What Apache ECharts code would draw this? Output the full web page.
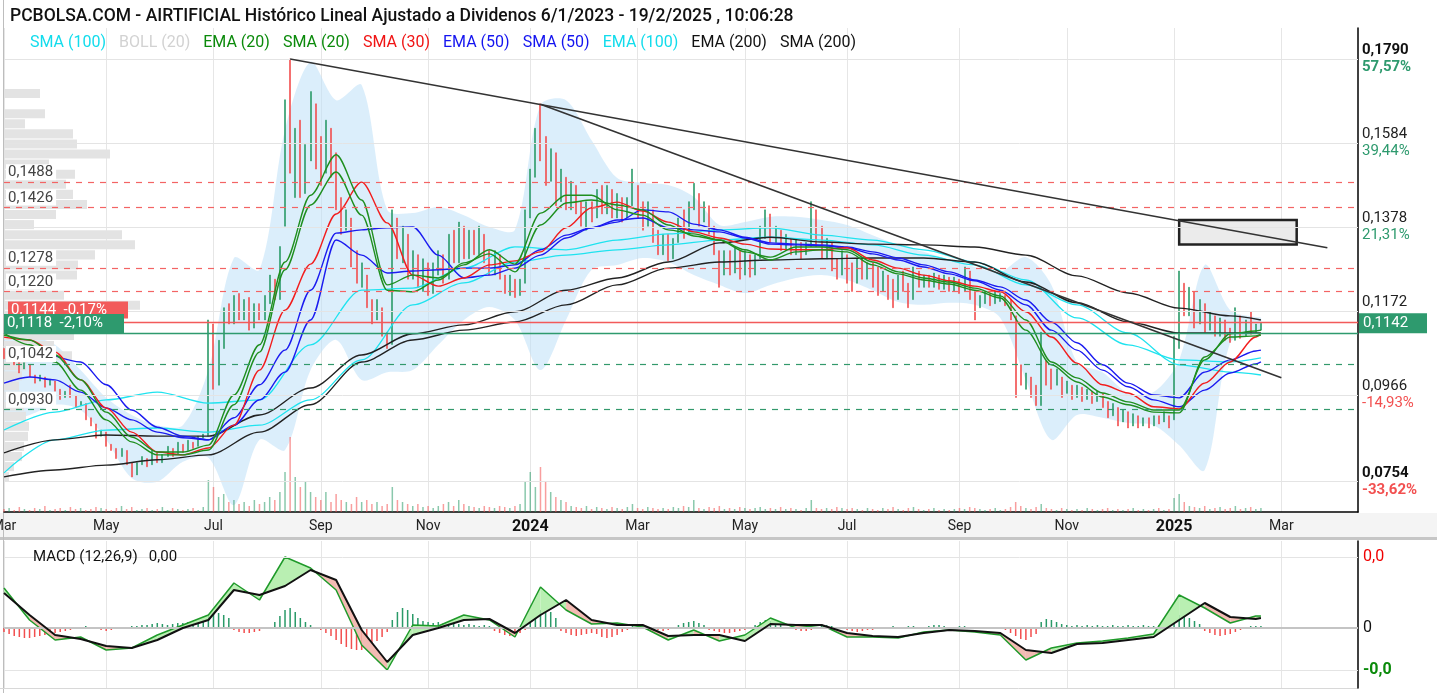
<!DOCTYPE html>
<html>
<head>
<meta charset="utf-8">
<script src="https://cdn.jsdelivr.net/npm/echarts@6/dist/echarts.min.js"></script>
<style>
  html, body { margin: 0; padding: 0; background: #fff; }
  #chart { width: 1437px; height: 693px; }
</style>
</head>
<body>
<div id="chart"></div>
<script>
// eje x: huecos de 2 sesiones desde el 1/3/2023 hasta mediados de abril 2025
const slotCount = 266;
const months = [[0,'Mar'],[20,'May'],[41,'Jul'],[62,'Sep'],[83,'Nov'],[103,'2024'],[124,'Mar'],[145,'May'],[165,'Jul'],[187,'Sep'],[208,'Nov'],[229,'2025'],[250,'Mar']];

// velas [apertura, cierre] (el cuerpo cubre el rango de la vela)
const candles = [
  [.1080,.1055],[.1050,.1070],[.1065,.1040],[.1045,.1020],[.1030,.1045],[.1040,.1010],[.1015,.0995],[.1000,.1015],[.1010,.0985],[.0990,.1005],
  [.1000,.0975],[.0980,.0955],[.0960,.0975],[.0990,.0960],[.0965,.0935],[.0940,.0950],[.0945,.0905],[.0910,.0890],[.0895,.0860],[.0865,.0880],
  [.0875,.0840],[.0845,.0830],[.0835,.0810],[.0815,.0835],[.0830,.0795],[.0800,.0765],[.0770,.0800],[.0795,.0815],[.0810,.0790],[.0795,.0830],
  [.0825,.0800],[.0800,.0820],[.0815,.0840],[.0835,.0815],[.0820,.0850],[.0845,.0825],[.0830,.0855],[.0850,.0835],[.0840,.0865],[.0860,.0870],
  [.0865,.1150],[.1140,.0980],[.0990,.1100],[.1080,.1180],[.1190,.1140],[.1140,.1210],[.1215,.1150],[.1150,.1200],[.1205,.1125],[.1130,.1190],
  [.1190,.1150],[.1150,.1210],[.1190,.1260],[.1250,.1200],[.1200,.1330],[.1380,.1690],[.1790,.1510],[.1450,.1620],[.1640,.1450],[.1460,.1580],
  [.1540,.1710],[.1680,.1520],[.1600,.1480],[.1510,.1640],[.1620,.1500],[.1560,.1420],[.1450,.1360],[.1370,.1420],[.1400,.1280],[.1320,.1240],
  [.1230,.1290],[.1260,.1180],[.1200,.1140],[.1150,.1200],[.1180,.1110],[.1120,.1080],[.1090,.1420],[.1400,.1300],[.1290,.1380],[.1360,.1250],
  [.1250,.1320],[.1310,.1230],[.1220,.1300],[.1290,.1210],[.1215,.1290],[.1260,.1320],[.1310,.1240],[.1250,.1360],[.1370,.1290],[.1290,.1390],
  [.1380,.1300],[.1300,.1370],[.1370,.1310],[.1310,.1380],[.1360,.1290],[.1320,.1260],[.1260,.1320],[.1310,.1250],[.1260,.1215],[.1210,.1260],
  [.1250,.1205],[.1210,.1250],[.1240,.1420],[.1400,.1520],[.1500,.1620],[.1680,.1540],[.1600,.1480],[.1490,.1570],[.1560,.1430],[.1440,.1520],
  [.1500,.1420],[.1420,.1490],[.1480,.1410],[.1440,.1380],[.1370,.1440],[.1440,.1390],[.1400,.1470],[.1480,.1410],[.1410,.1480],[.1470,.1400],
  [.1400,.1460],[.1450,.1390],[.1400,.1450],[.1430,.1520],[.1480,.1400],[.1440,.1370],[.1380,.1440],[.1420,.1340],[.1370,.1310],[.1310,.1360],
  [.1360,.1295],[.1300,.1350],[.1340,.1400],[.1420,.1350],[.1360,.1440],[.1420,.1485],[.1460,.1380],[.1390,.1440],[.1430,.1360],[.1380,.1310],
  [.1320,.1230],[.1260,.1320],[.1320,.1260],[.1265,.1330],[.1320,.1250],[.1260,.1320],[.1310,.1255],[.1260,.1310],[.1300,.1380],[.1350,.1420],
  [.1410,.1340],[.1340,.1380],[.1370,.1320],[.1320,.1360],[.1350,.1310],[.1310,.1350],[.1340,.1300],[.1310,.1340],[.1330,.1440],[.1420,.1330],
  [.1380,.1300],[.1300,.1350],[.1340,.1270],[.1300,.1250],[.1260,.1320],[.1310,.1240],[.1290,.1220],[.1240,.1300],[.1300,.1250],[.1250,.1290],
  [.1290,.1230],[.1280,.1210],[.1220,.1270],[.1260,.1200],[.1250,.1180],[.1200,.1260],[.1270,.1220],[.1240,.1180],[.1200,.1280],[.1270,.1230],
  [.1230,.1260],[.1260,.1230],[.1230,.1265],[.1260,.1225],[.1225,.1260],[.1255,.1220],[.1220,.1255],[.1250,.1215],[.1220,.1280],[.1270,.1200],
  [.1220,.1150],[.1180,.1210],[.1190,.1220],[.1215,.1185],[.1190,.1220],[.1195,.1215],[.1210,.1185],[.1200,.1150],[.1160,.0960],[.1040,.0990],
  [.0980,.1020],[.1010,.0960],[.0990,.0940],[.0940,.1120],[.1050,.0990],[.1030,.0980],[.0990,.1030],[.1010,.0960],[.0970,.1000],[.0990,.0955],
  [.0960,.0990],[.0985,.0950],[.0955,.0980],[.0975,.0945],[.0950,.0975],[.0970,.0935],[.0950,.0910],[.0915,.0945],[.0935,.0890],[.0900,.0930],
  [.0925,.0885],[.0890,.0920],[.0915,.0885],[.0890,.0910],[.0910,.0885],[.0890,.0915],[.0915,.0895],[.0900,.0925],[.0915,.0885],[.0905,.1110],
  [.1080,.1270],[.1240,.1160],[.1160,.1230],[.1220,.1130],[.1140,.1200],[.1190,.1120],[.1125,.1170],[.1160,.1110],[.1110,.1155],[.1150,.1100],
  [.1130,.1095],[.1100,.1180],[.1160,.1105],[.1110,.1150],[.1170,.1115],[.1120,.1140],[.1125,.1142]
];

const volume = [
  3,4,2,5,3,2,4,3,6,2, 3,4,2,5,3,4,2,3,5,4, 3,2,4,6,3,5,2,3,4,2, 3,5,2,4,3,2,3,4,2,5,
  32,25,15,18,10,12,8,10,6,12, 8,10,15,12,20,40,75,35,25,30, 20,15,12,20,10,18,12,10,8,15,
  10,12,8,10,6,8,25,12,10,8, 6,8,5,6,4,6,8,10,6,12, 8,6,5,4,6,5,4,6,5,4,
  6,8,30,40,25,45,30,20,15,12, 10,6,5,4,6,3,5,4,3,5, 4,3,5,8,4,3,5,4,3,4,
  3,5,4,6,5,12,4,3,5,4, 6,3,4,3,5,4,3,4,5,3, 4,3,5,3,4,3,2,4,12,4,
  3,4,3,5,4,3,4,3,2,4, 3,2,4,3,5,3,2,4,5,3, 2,3,4,2,3,2,3,4,3,5,
  4,3,2,3,4,2,3,5,10,6, 4,3,5,8,4,3,2,4,3,2, 3,2,4,3,2,3,4,2,3,2,
  3,4,2,3,2,3,4,2,3,14, 18,10,6,5,4,6,3,4,5,3, 4,6,3,4,5,3,4
];

// medias y bandas
const slowIdx = [0,10,20,30,40,50,60,70,80,90,100,110,120,130,140,150,160,170,180,190,200,210,220,230,240,246];
const fastIdx = [0,5,10,15,20,25,30,35,40,45,50,55,60,65,70,75,80,85,90,95,100,105,110,115,120,125,130,135,140,145,150,155,160,165,170,175,180,185,190,195,200,205,210,215,220,225,230,235,240,245,246];

const sma200 = [.0824,.0856,.0868,.0865,.0865,.0917,.0983,.1064,.1116,.1138,.1170,.1223,.1253,.1292,.1339,.1353,.1341,.1336,.1334,.1329,.1309,.1258,.1216,.1179,.1160,.1150];
const ema200 = [.0765,.0782,.0794,.0807,.0819,.0875,.0942,.1047,.1101,.1125,.1145,.1187,.1236,.1277,.1292,.1297,.1300,.1302,.1302,.1292,.1243,.1192,.1145,.1118,.1118,.1118];
const ema100 = [.0880,.0924,.0954,.0973,.0946,.0954,.1089,.1223,.1228,.1277,.1329,.1322,.1346,.1361,.1371,.1376,.1358,.1346,.1322,.1292,.1248,.1155,.1089,.1052,.1047,.1057];
const sma100 = [.0775,.0856,.0880,.0885,.0875,.0892,.0954,.1052,.1187,.1241,.1292,.1309,.1322,.1334,.1346,.1353,.1346,.1334,.1309,.1285,.1236,.1187,.1118,.1040,.1022,.1015];

const ema20 = [.1113,.1101,.1064,.1003,.0924,.0863,.0826,.0826,.0843,.0966,.1089,.1292,.1456,.1555,.1444,.1236,.1260,.1253,.1285,.1322,.1287,.1412,.1456,.1456,.1420,.1407,.1371,.1361,.1346,.1317,.1304,.1329,.1329,.1322,.1292,.1268,.1253,.1243,.1228,.1209,.1150,.1047,.1008,.0971,.0949,.0929,.0929,.1052,.1116,.1123,.1125];
const sma20 = [.1118,.1089,.1047,.0978,.0905,.0851,.0819,.0819,.0831,.0942,.1071,.1273,.1432,.1513,.1407,.1223,.1219,.1248,.1290,.1312,.1268,.1383,.1437,.1444,.1432,.1420,.1383,.1356,.1346,.1322,.1297,.1317,.1322,.1317,.1285,.1263,.1248,.1238,.1223,.1204,.1125,.1040,.0998,.0961,.0942,.0924,.0922,.1059,.1108,.1111,.1113];
const sma30 = [.1108,.1101,.1071,.1003,.0934,.0875,.0826,.0819,.0836,.0892,.1027,.1174,.1287,.1410,.1488,.1388,.1260,.1233,.1253,.1285,.1295,.1317,.1376,.1425,.1439,.1417,.1390,.1366,.1351,.1336,.1324,.1322,.1322,.1327,.1297,.1277,.1260,.1246,.1233,.1219,.1170,.1108,.1044,.0991,.0971,.0937,.0932,.0995,.1047,.1108,.1118];
const ema50 = [.0995,.1010,.1003,.0973,.0934,.0905,.0875,.0861,.0856,.0892,.0954,.1022,.1150,.1346,.1309,.1265,.1270,.1273,.1277,.1277,.1285,.1322,.1358,.1376,.1395,.1400,.1376,.1371,.1366,.1351,.1336,.1334,.1332,.1327,.1312,.1297,.1280,.1263,.1246,.1223,.1187,.1125,.1076,.1027,.0986,.0954,.0937,.0978,.1020,.1042,.1047];
const sma50 = [null,null,.1062,.1047,.0991,.0929,.0887,.0865,.0856,.0910,.0991,.1076,.1223,.1363,.1371,.1376,.1378,.1309,.1253,.1260,.1277,.1309,.1351,.1376,.1390,.1420,.1415,.1385,.1371,.1353,.1339,.1336,.1334,.1329,.1317,.1302,.1285,.1268,.1248,.1231,.1199,.1145,.1094,.1040,.0995,.0966,.0959,.1022,.1052,.1074,.1076];
const bollUp = [.1138,.1113,.1089,.1027,.0959,.0917,.0892,.0892,.1027,.1302,.1273,.1616,.1783,.1689,.1726,.1420,.1412,.1427,.1407,.1378,.1371,.1677,.1689,.1591,.1498,.1486,.1481,.1452,.1383,.1390,.1403,.1403,.1395,.1383,.1358,.1334,.1317,.1297,.1280,.1268,.1304,.1236,.1047,.1022,.0971,.0973,.1052,.1285,.1174,.1157,.1155];
const bollLo = [.0905,.0917,.0942,.0929,.0856,.0762,.0753,.0802,.0812,.0696,.0856,.0831,.1027,.1101,.1003,.1022,.1027,.1089,.1150,.1182,.1150,.1027,.1150,.1273,.1285,.1302,.1292,.1260,.1236,.1216,.1236,.1253,.1260,.1248,.1223,.1194,.1187,.1192,.1187,.1155,.1003,.0856,.0917,.0910,.0897,.0892,.0843,.0782,.1094,.1118,.1125];

// MACD (12,26,9)
const macd = [.0040,.0008,-.0012,-.0009,-.0022,-.0020,-.0007,.0003,.0013,.0045,.0028,.0071,.0060,.0038,-.0017,-.0042,.0003,.0002,.0013,.0008,-.0009,.0041,.0018,.0004,.0005,.0001,-.0012,-.0002,-.0013,-.0007,.0010,0,.0003,-.0009,-.0009,-.0010,-.0004,-.0002,-.0004,-.0007,-.0032,-.0020,-.0015,-.0013,-.0010,-.0006,.0033,.0020,.0005,.0012,.0012];
const signal = [.0035,.0013,-.0007,-.0011,-.0018,-.0020,-.0012,0,.0008,.0038,.0033,.0042,.0058,.0048,-.0002,-.0034,-.0007,0,.0008,.0009,-.0005,.0013,.0028,.0008,.0003,.0003,-.0008,-.0007,-.0007,-.0013,.0004,.0003,.0003,-.0005,-.0008,-.0009,-.0005,-.0002,-.0003,-.0005,-.0022,-.0025,-.0016,-.0015,-.0012,-.0009,.0008,.0025,.0011,.0009,.0010];
const hist = [
  -4,-6,-8,-9,-10,-10,-9,-8,-7,-6,-5,-4, -3,-2,-1,1,2,1,-1,-2,-3,-2,-1,0,
  1,2,2,3,3,4,5,4,3,4,5,5,6,6, 8,10,12,14,15,13,10, -2,-4,-5,-5,-4,-3,-1,1,
  6,12,18,20,16,10, 6,3,1,-2,-5, -8,-12,-16,-19,-21,-22,-22,-20,-17,-13,-9,-4,
  8,16,20,18,14,10, 7,6,5,6,5,4,5,4,3,4,3,2,3,2, -3,-5,-7,-8,-7,-5,-2,
  6,12,18,20,16,10, -3,-5,-7,-8,-7,-6,-5, -6,-9,-10,-9,-7,-4,-2,
  2,3,2,1,-1,-2,-3,-2,1, 3,5,6,7,5,3, -2,-3,-4,-5,-5,-4,-3,-2,-1, 3,6,8,7,5,3,1,
  -1,-2,-3,-3,-2,1,2,3,2,1,-1, -2,-3,-4,-3,-2,-2,-1,-1,1,2,1,
  1,2,2,1,1,2,3,3,2,1,1,2,2,1,-1,-1,0,1,1,-1,-2, -5,-8,-11,-12,-9,-6, 6,9,8,6,4,3,
  2,3,2,3,2,3,2,2,3,2,2,3,2,2,3,2,2,3, 4,7,10,13,12,10,7,4, -3,-5,-7,-8,-7,-6,-4,-2, 1,2,2,2
];

// perfil de volumen por precio, de arriba abajo
const profileVol = [0,0,0,0,0,0,36,0,41,21,69,73,106,45,71,62,69,83,52,30,118,131,91,74,73,40,60,136,115,95,70,50,68,22,18,15,18,20,22,25,24,20,18,10,5,0,0,0];

// niveles
const gridLevels = [.1790, .1584, .1378, .1172, .0966, .0754];
const gridPct = ['57,57%', '39,44%', '21,31%', '', '-14,93%', '-33,62%'];
const redLevels = [.1488, .1426, .1278, .1220];
const greenLevels = [.1042, .0930];

const yMin = 0.0679, yMax = 0.1866;
const FONT = 'Roboto, "Noto Sans", sans-serif';
const upColor = '#2a9a68', downColor = '#f24e4e';

const slotNames = [];
for (let i = 0; i < slotCount; i++) slotNames.push('s' + i);
const monthAt = {};
months.forEach(m => { monthAt[m[0]] = m[1]; });
const isMonth = i => monthAt[i] !== undefined;
const fmt = v => v.toFixed(4).replace('.', ',');

const profileNames = profileVol.map((v, k) => fmt(yMax - (k + 0.5) * (yMax - yMin) / profileVol.length));

function maLine(name, idx, vals, color, width) {
  return {
    name: name, type: 'line', xAxisIndex: 0, yAxisIndex: 0, z: 4,
    data: idx.map((c, k) => [c, vals[k]]),
    showSymbol: false, smooth: 0.3, smoothMonotone: 'x', silent: true,
    lineStyle: { color: color, width: width || 1.3 }, itemStyle: { color: color }
  };
}

const legendItems = [
  ['SMA (100)', '#12dcec'], ['BOLL (20)', '#d2d2d2'], ['EMA (20)', '#0b8a0b'], ['SMA (20)', '#0b8a0b'],
  ['SMA (30)', '#f01414'], ['EMA (50)', '#1414f0'], ['SMA (50)', '#1414f0'], ['EMA (100)', '#12dcec'],
  ['EMA (200)', '#111'], ['SMA (200)', '#111']
];

const rightRich = {
  a: { fontSize: 15, color: '#222', lineHeight: 17, fontFamily: FONT },
  ab: { fontSize: 15, color: '#111', fontWeight: 'bold', lineHeight: 17, fontFamily: FONT },
  g: { fontSize: 15, color: '#2e9a6e', lineHeight: 17, fontFamily: FONT },
  gb: { fontSize: 15, color: '#2e9a6e', fontWeight: 'bold', lineHeight: 17, fontFamily: FONT },
  r: { fontSize: 15, color: '#f25050', lineHeight: 17, fontFamily: FONT },
  rb: { fontSize: 15, color: '#f25050', fontWeight: 'bold', lineHeight: 17, fontFamily: FONT }
};

const priceMarks = [];
gridLevels.forEach((v, k) => {
  const bold = (k === 0 || k === gridLevels.length - 1) ? 'b' : '';
  const pc = gridPct[k].charAt(0) === '-' ? 'r' : 'g';
  priceMarks.push({
    yAxis: v,
    lineStyle: { color: '#e4e4e4', width: 1, type: 'solid' },
    label: { position: 'end', distance: 4, formatter: '{a' + bold + '|' + fmt(v) + '}\n{' + pc + bold + '|' + (gridPct[k] || ' ') + '}', rich: rightRich }
  });
});
redLevels.concat(greenLevels).forEach(v => {
  const col = redLevels.indexOf(v) >= 0 ? '#f36464' : '#33996c';
  priceMarks.push({
    yAxis: v,
    lineStyle: { color: col, width: 1.2, type: [6, 6] },
    label: { position: 'insideStartTop', distance: 2, formatter: fmt(v), color: '#444', fontSize: 15, fontFamily: FONT, backgroundColor: '#fff', padding: [1, 3, 0, 2] }
  });
});
priceMarks.push({
  yAxis: .1144,
  lineStyle: { color: '#f25a5a', width: 1.3, type: 'solid' },
  label: { position: 'insideStartTop', distance: 4, formatter: '0,1144  -0,17%', color: '#fff', backgroundColor: '#f25a5a', fontSize: 15, fontFamily: FONT, padding: [1, 4, 1, 3], width: 113 }
});
priceMarks.push({
  yAxis: .1118,
  lineStyle: { color: '#2e9a6e', width: 1.3, type: 'solid' },
  label: { position: 'insideStartTop', distance: 0, formatter: '0,1118  -2,10%', color: '#fff', backgroundColor: '#2e9a6e', fontSize: 15, fontFamily: FONT, padding: [2, 4, 2, 3], width: 113 }
});
priceMarks.push({
  yAxis: .1142,
  lineStyle: { color: 'rgba(0,0,0,0)', width: 1 },
  label: { position: 'end', distance: 1, formatter: '0,1142', color: '#fff', backgroundColor: '#2e9a6e', fontSize: 15, fontFamily: FONT, padding: [3, 8, 2, 4], width: 56 }
});
// directrices bajistas
priceMarks.push([{ coord: [56, .1790] }, { coord: [259, .1327] }]);
priceMarks.push([{ coord: [105, .1679] }, { coord: [250, .1008] }]);

const chart = echarts.init(document.getElementById('chart'));

const option = {
  animation: false,
  textStyle: { fontFamily: FONT },
  title: [
    { text: 'PCBOLSA.COM - AIRTIFICIAL Histórico Lineal Ajustado a Dividenos 6/1/2023 - 19/2/2025 , 10:06:28', left: 5, top: 3,
      textStyle: { fontSize: 17.5, fontWeight: 500, color: '#111', fontFamily: FONT } },
    { text: 'MACD (12,26,9)   0,00', left: 28, top: 545, textStyle: { fontSize: 15, fontWeight: 'normal', color: '#111', fontFamily: FONT } }
  ],
  legend: {
    left: 20, top: 30, icon: 'none', itemWidth: 0, itemHeight: 0, itemGap: 8, selectedMode: false,
    textStyle: { fontSize: 16, fontFamily: FONT },
    data: legendItems.map(it => ({ name: it[0], textStyle: { color: it[1] } }))
  },
  graphic: [
    { type: 'rect', left: 0, top: 513, z: -10, shape: { width: 1437, height: 24 }, style: { fill: '#f4f4f4' } },
    { type: 'rect', left: 0, top: 537, z: -10, shape: { width: 1437, height: 3 }, style: { fill: '#c6c6c6' } },
    { type: 'line', z: -10, shape: { x1: 3.5, y1: 0, x2: 3.5, y2: 693 }, style: { stroke: '#bdbdbd', lineWidth: 1 } },
    { type: 'line', z: -10, shape: { x1: 0, y1: 688.5, x2: 1358, y2: 688.5 }, style: { stroke: '#d8d8d8', lineWidth: 1 } }
  ],
  grid: [
    { left: 4, right: 79, top: 28, bottom: 181, outerBoundsMode: 'none' },
    { left: 4, right: 79, top: 28, bottom: 181, outerBoundsMode: 'none' },
    { left: 4, right: 79, top: 541, bottom: 5, outerBoundsMode: 'none' }
  ],
  xAxis: [
    {
      type: 'category', gridIndex: 0, data: slotNames, boundaryGap: false,
      axisLine: { lineStyle: { color: '#000', width: 1.5 } }, axisTick: { show: false },
      axisLabel: {
        interval: i => isMonth(i), margin: 7, color: '#222', fontSize: 14, fontFamily: FONT,
        formatter: (v, i) => { const t = monthAt[i] || ''; return /^\d/.test(t) ? '{y|' + t + '}' : t; },
        rich: { y: { fontWeight: 'bold', fontSize: 16, color: '#111', fontFamily: FONT } }
      },
      splitLine: { show: true, interval: i => isMonth(i), lineStyle: { color: '#e6e6e6' } }
    },
    { type: 'value', gridIndex: 1, min: 0, max: 1354, show: false },
    {
      type: 'category', gridIndex: 2, data: slotNames, boundaryGap: false,
      axisLine: { show: false }, axisTick: { show: false }, axisLabel: { show: false },
      splitLine: { show: true, interval: i => isMonth(i), lineStyle: { color: '#e6e6e6' } }
    }
  ],
  yAxis: [
    { type: 'value', gridIndex: 0, position: 'right', min: yMin, max: yMax,
      axisLine: { show: true, lineStyle: { color: '#000', width: 1.5 } }, axisTick: { show: false },
      axisLabel: { show: false }, splitLine: { show: false } },
    { type: 'value', gridIndex: 0, min: 0, max: 484, show: false },
    { type: 'category', gridIndex: 1, data: profileNames, inverse: true, show: false },
    { type: 'value', gridIndex: 2, position: 'right', min: -0.0060, max: 0.0087,
      axisLine: { show: true, lineStyle: { color: '#000', width: 1.5 } }, axisTick: { show: false },
      axisLabel: { show: false }, splitLine: { show: false } },
    { type: 'value', gridIndex: 2, min: -60, max: 87, show: false }
  ],
  series: [
    {
      name: 'BOLL (20)', type: 'custom', xAxisIndex: 0, yAxisIndex: 0, z: 1, silent: true, clip: true,
      data: fastIdx.map((c, k) => [c, bollLo[k], bollUp[k]]),
      encode: { x: 0, y: [1, 2] },
      renderItem: function (params, api) {
        if (params.dataIndex !== 0) return;
        const pts = [];
        fastIdx.forEach((c, k) => pts.push(api.coord([c, bollUp[k]])));
        for (let k = fastIdx.length - 1; k >= 0; k--) pts.push(api.coord([fastIdx[k], bollLo[k]]));
        return { type: 'polygon', shape: { points: pts, smooth: 0.3 }, style: { fill: 'rgba(190,224,247,0.55)' } };
      }
    },
    {
      name: 'perfil', type: 'bar', xAxisIndex: 1, yAxisIndex: 2, z: 1, silent: true,
      data: profileVol, barCategoryGap: '10%', itemStyle: { color: '#e3e3e3' }
    },
    {
      name: 'volumen', type: 'bar', xAxisIndex: 0, yAxisIndex: 1, z: 2, silent: true, barWidth: 1.5,
      data: volume.map((v, i) => ({ value: v, itemStyle: { color: candles[i][1] >= candles[i][0] ? 'rgba(42,154,104,0.55)' : 'rgba(242,78,78,0.55)' } }))
    },
    {
      name: 'AIRTIFICIAL', type: 'candlestick', xAxisIndex: 0, yAxisIndex: 0, z: 3, silent: true,
      barWidth: 1.5,
      data: candles.map(p => [p[0], p[1], Math.min(p[0], p[1]), Math.max(p[0], p[1])]),
      itemStyle: { color: upColor, color0: downColor, borderColor: upColor, borderColor0: downColor, borderWidth: 0.6 },
      markLine: { silent: true, precision: 4, symbol: ['none', 'none'], animation: false, label: { show: true }, lineStyle: { color: '#333', width: 1.6, type: 'solid' }, data: priceMarks },
      markArea: {
        silent: true,
        itemStyle: { color: '#ebebeb', borderColor: '#222', borderWidth: 2.5 },
        data: [[{ coord: [230, .1395] }, { coord: [253, .1335] }]]
      }
    },
    maLine('SMA (100)', slowIdx, sma100, '#1fe3ef', 1.3),
    maLine('EMA (100)', slowIdx, ema100, '#1fe3ef', 1.3),
    maLine('EMA (200)', slowIdx, ema200, '#222', 1.4),
    maLine('SMA (200)', slowIdx, sma200, '#222', 1.4),
    maLine('EMA (50)', fastIdx, ema50, '#1b1bf0', 1.4),
    maLine('SMA (50)', fastIdx, sma50, '#1b1bf0', 1.4),
    maLine('SMA (30)', fastIdx, sma30, '#f21d1d', 1.4),
    maLine('SMA (20)', fastIdx, sma20, '#1f8f1f', 1.4),
    maLine('EMA (20)', fastIdx, ema20, '#1f8f1f', 1.4),
    {
      name: 'histograma', type: 'bar', xAxisIndex: 2, yAxisIndex: 4, z: 2, silent: true, barWidth: 1.5,
      data: hist.map(v => ({ value: v, itemStyle: { color: v >= 0 ? upColor : downColor } }))
    },
    {
      name: 'relleno', type: 'custom', xAxisIndex: 2, yAxisIndex: 3, z: 3, silent: true, clip: true,
      data: fastIdx.map((c, k) => [c, macd[k], signal[k]]),
      encode: { x: 0, y: [1, 2] },
      renderItem: function (params, api) {
        const k = params.dataIndex;
        if (k >= fastIdx.length - 1) return;
        const a = api.coord([fastIdx[k], macd[k]]), b = api.coord([fastIdx[k + 1], macd[k + 1]]);
        const c = api.coord([fastIdx[k + 1], signal[k + 1]]), d = api.coord([fastIdx[k], signal[k]]);
        const up = macd[k] + macd[k + 1] >= signal[k] + signal[k + 1];
        return { type: 'polygon', shape: { points: [a, b, c, d] }, style: { fill: up ? '#b9efb2' : '#f3bbb3' } };
      }
    },
    {
      name: 'MACD', type: 'line', xAxisIndex: 2, yAxisIndex: 3, z: 4, silent: true, showSymbol: false,
      data: fastIdx.map((c, k) => [c, macd[k]]),
      lineStyle: { color: '#1f9a2a', width: 1.5 },
      markLine: {
        silent: true, precision: 5, symbol: ['none', 'none'], animation: false,
        label: { position: 'end', distance: 5, fontSize: 16, fontFamily: FONT },
        data: [
          { yAxis: .0071, lineStyle: { color: '#e4e4e4', width: 1, type: 'solid' }, label: { formatter: '0,0', color: '#f00000' } },
          { yAxis: 0, lineStyle: { color: '#c4c4c4', width: 2, type: 'solid' }, label: { formatter: '0', color: '#111' } },
          { yAxis: -.0042, lineStyle: { color: '#e4e4e4', width: 1, type: 'solid' }, label: { formatter: '-0,0', color: '#0a8a0a', fontWeight: 'bold' } }
        ]
      }
    },
    {
      name: 'Señal', type: 'line', xAxisIndex: 2, yAxisIndex: 3, z: 5, silent: true, showSymbol: false,
      data: fastIdx.map((c, k) => [c, signal[k]]),
      lineStyle: { color: '#111', width: 2 }
    }
  ]
};

chart.setOption(option);
</script>
</body>
</html>
